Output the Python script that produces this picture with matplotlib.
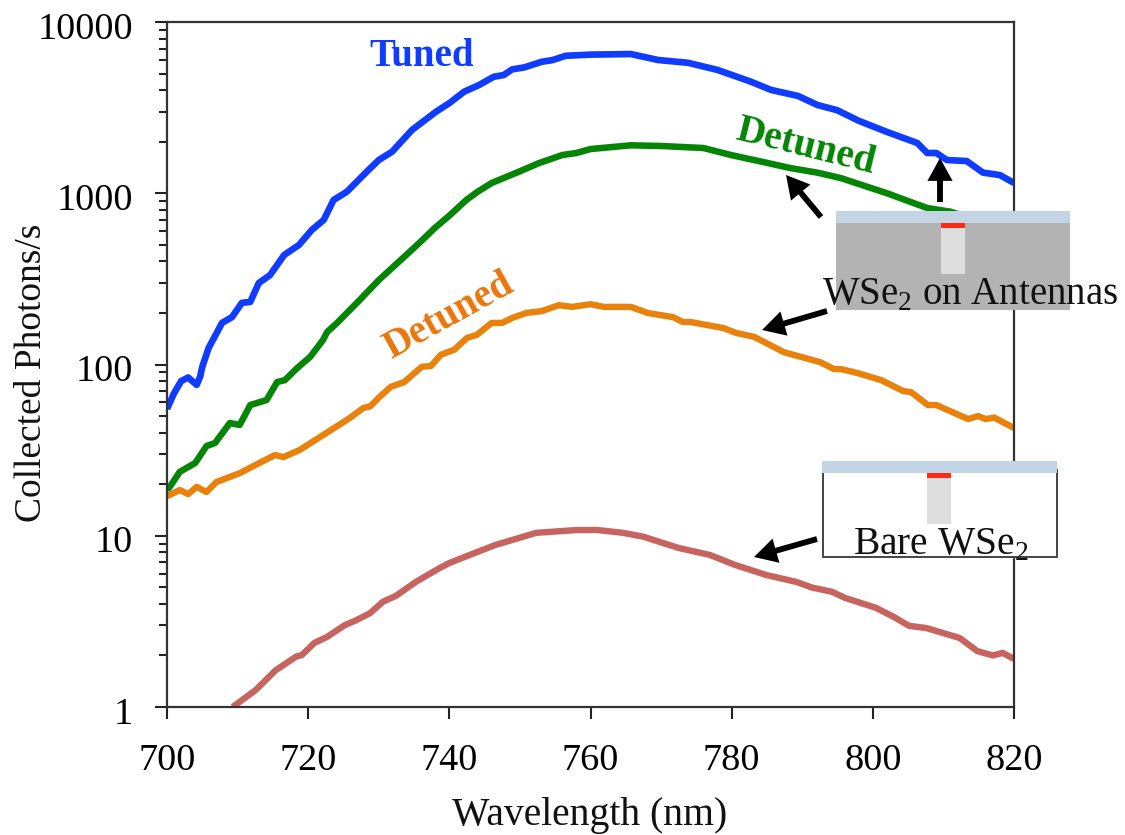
import matplotlib
matplotlib.use("Agg")
import matplotlib.pyplot as plt
from matplotlib.patches import Rectangle
from matplotlib.ticker import LogLocator, NullFormatter, FixedLocator, FixedFormatter
from matplotlib.transforms import ScaledTranslation

plt.rcParams['font.family'] = ['Liberation Serif', 'DejaVu Serif']
plt.rcParams['mathtext.fontset'] = 'custom'
plt.rcParams['mathtext.rm'] = 'Liberation Serif'

# curves
tuned_x = [700, 701, 702, 703, 704.2, 704.7, 705, 705.9, 707.8, 709.2, 710.6, 711.8, 713, 714.6, 716.6, 718.7, 720.5,
           722.2, 723.6, 725.5, 728.3, 730, 731.9, 734.7, 738.1, 740, 742.1, 744.2, 746.3, 747.7, 748.9, 750.6, 753.1, 754.6, 756.5, 760,
           765.7, 769.6, 773.8, 778, 782.7, 785.6, 789.4, 792.2, 794.9, 798, 802, 806.3, 807.7, 809, 810.5, 813.3, 815.6, 818, 820]
tuned_y = [55, 68, 80, 84, 76, 85, 97, 125, 175, 189, 229, 232, 299, 333, 436, 499, 610,
           698, 913, 1022, 1336, 1563, 1750, 2340, 2990, 3360, 3917, 4285, 4790, 4900, 5290, 5430, 5860, 5990, 6350, 6450,
           6500, 5997, 5780, 5250, 4485, 4010, 3700, 3270, 3060, 2650, 2280, 1965, 1718, 1718, 1563, 1542, 1320, 1277, 1148]

detuned_ant_x = [700, 700.4, 701.8, 704, 705.6, 706.8, 708.9, 710.3, 711.8, 714.1, 715.6, 716.7, 718.4, 720.3, 722.1, 722.7,
                 724.1, 726.9, 730, 732, 734, 736, 738, 740, 742.4, 744, 746, 749.4, 752.7, 756, 758, 760,
                 765.7, 770, 776, 779.9, 784.5, 788.3, 792.2, 795.5, 802, 807.7, 811, 820]
detuned_ant_y = [18.5, 19.3, 23.6, 26.6, 33.4, 34.8, 45.5, 44.4, 58, 62, 79, 81, 95, 111, 139, 155,
                 175, 229, 311, 370, 440, 525, 630, 740, 913, 1020, 1148, 1312, 1500, 1672, 1718, 1812,
                 1905, 1888, 1837, 1672, 1521, 1403, 1318, 1225, 1000, 820, 780, 590]

detuned_x = [700, 701.8, 703, 704.2, 705.6, 707, 710.3, 711.8, 715.3, 716.5, 718.8, 722.1, 725.9, 727.8, 728.8, 730,
             731.7, 733.6, 736.1, 737.4, 738.8, 740.7, 742.5, 743.9, 746, 747.5, 748.9, 750.9, 753.1, 755.5, 757.4, 760,
             761.9, 765.7, 768.1, 771.7, 773.1, 774.2, 778.9, 780.6, 783.2, 787.4, 792.6, 794.5, 795.5, 797.9, 801.2,
             804.3, 805.4, 807.8, 809, 813.5, 814.9, 816, 817.2, 820]
detuned_y = [17, 18.5, 17.5, 19.3, 18, 20.6, 23.2, 25, 29.6, 28.8, 31.7, 38.7, 48.7, 55.7, 57, 64,
             74, 79, 97, 98, 114, 122, 143, 149, 175, 175, 187, 200, 205, 222, 217, 225,
             217, 217, 200, 189, 177, 177, 163, 153, 145, 118, 103, 94, 94, 89, 81,
             70, 69, 58, 58, 48, 50, 48, 49, 42.6]

bare_x = [709.3, 712.6, 715.4, 718.3, 719.1, 720.9, 722.7, 725.2, 726.6, 728.8, 730.6, 732.4, 735.3, 738.6, 740, 742.9,
          746.5, 749.4, 752.3, 755.2, 758.1, 761, 764.6, 767.5, 772.5, 776.9, 780.5, 784.9, 789.2, 791.4, 794.2, 796.1,
          800.4, 802.9, 805.1, 807.6, 812.3, 814.8, 817, 818.4, 820]
bare_y = [1.0, 1.26, 1.64, 1.97, 2.01, 2.37, 2.57, 3.01, 3.18, 3.54, 4.12, 4.45, 5.39, 6.47, 6.93, 7.73,
          8.83, 9.58, 10.4, 10.6, 10.8, 10.8, 10.4, 9.87, 8.48, 7.73, 6.75, 5.9, 5.37, 4.98, 4.71, 4.33,
          3.8, 3.37, 2.98, 2.89, 2.53, 2.12, 2.0, 2.07, 1.91]

x_ticks = [700, 720, 740, 760, 780, 800, 820]
y_ticks = [1, 10, 100, 1000, 10000]
y_labels = ['1', '10', '100', '1000', '10000']

W, H = 1125, 835
fig = plt.figure(figsize=(11.25, 8.35), dpi=100)
ax = fig.add_axes([167 / W, 1 - 707 / H, (1014 - 167) / W, (707 - 22) / H])

ax.plot(tuned_x, tuned_y, color='#0f3cff', lw=4.8, solid_capstyle='butt')
ax.plot(detuned_ant_x, detuned_ant_y, color='#058505', lw=4.7, solid_capstyle='butt')
ax.plot(detuned_x, detuned_y, color='#e9820c', lw=4.6, solid_capstyle='butt')
ax.plot(bare_x, bare_y, color='#c8645f', lw=4.6, solid_capstyle='butt')

ax.set_yscale('log')
ax.set_xlim(700, 820)
ax.set_ylim(1, 10000)
ax.xaxis.set_major_locator(FixedLocator(x_ticks))
ax.yaxis.set_major_locator(FixedLocator(y_ticks))
ax.yaxis.set_major_formatter(FixedFormatter(y_labels))
ax.yaxis.set_minor_locator(LogLocator(base=10, subs=range(2, 10), numticks=10))
ax.yaxis.set_minor_formatter(NullFormatter())
ax.tick_params(axis='both', which='major', labelsize=27.5, length=8.6, width=1.5, color='#222222')
ax.tick_params(axis='x', which='major', pad=18)
ax.tick_params(axis='y', which='major', pad=16)
ax.tick_params(axis='y', which='minor', length=5.8, width=1.5, color='#222222')
for s in ax.spines.values():
    s.set_linewidth(1.6)
    s.set_color('#333333')

# y tick labels sit a little lower than the ticks
shift = ScaledTranslation(0, -3.5 / 100, fig.dpi_scale_trans)
for lab in ax.get_yticklabels():
    lab.set_transform(lab.get_transform() + shift)

# overlay in pixel coordinates for the labels and insets
ov = fig.add_axes([0, 0, 1, 1], zorder=5)
ov.set_xlim(0, W)
ov.set_ylim(H, 0)
ov.axis('off')
ov.patch.set_alpha(0)

ov.text(590, 816, 'Wavelength (nm)', fontsize=28.5, ha='center', va='center', color='#111111')
ov.text(32, 373, 'Collected Photons/s', fontsize=27, ha='center', va='center', rotation=90, color='#111111')

ov.text(422, 57, 'Tuned', color='#0f3cff', fontsize=28, fontweight='bold', ha='center', va='center')
ov.text(806, 147, 'Detuned', color='#058505', fontsize=28.4, fontweight='bold', ha='center', va='center', rotation=-14)
ov.text(449, 316, 'Detuned', color='#e9760c', fontsize=28.4, fontweight='bold', ha='center', va='center', rotation=29)

# antenna inset
ov.add_patch(Rectangle((836, 222), 234, 88, fc='#b3b3b3', ec='none'))
ov.add_patch(Rectangle((836, 211), 234, 12, fc='#c3d4e4', ec='none'))
ov.add_patch(Rectangle((941, 228), 24, 46, fc='#dedede', ec='none'))
ov.add_patch(Rectangle((941, 223), 24, 5, fc='#ff2a10', ec='none'))
ov.text(970, 295, r'WSe$_{\mathrm{2}}$ on Antennas', fontsize=28, ha='center', va='center', color='#111111')

# bare inset
ov.add_patch(Rectangle((822.5, 470), 234, 87, fc='white', ec='#444444', lw=1.4))
ov.add_patch(Rectangle((822, 461), 235, 12, fc='#c3d4e4', ec='none'))
ov.add_patch(Rectangle((927, 478), 24, 46, fc='#dedede', ec='none'))
ov.add_patch(Rectangle((927, 473), 24, 5, fc='#ff2a10', ec='none'))
ov.text(941, 545, r'Bare WSe$_{\mathrm{2}}$', fontsize=28.4, ha='center', va='center', color='#111111')

# arrows
arrows = [((940, 202), (940, 158)), ((821, 217), (786, 175)), ((827, 311), (762, 330)), ((817, 539), (754, 557))]
for start, end in arrows:
    ov.annotate('', xy=end, xytext=start, xycoords='data',
                arrowprops=dict(arrowstyle='-|>,head_width=0.55,head_length=1.0', color='black', lw=4.2,
                                shrinkA=0, shrinkB=0, joinstyle='miter', capstyle='butt'))

fig.savefig('out.png', dpi=100)
